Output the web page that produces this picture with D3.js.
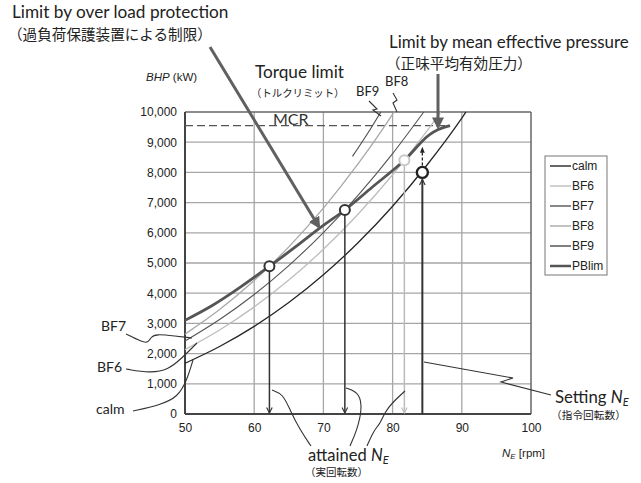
<!DOCTYPE html>
<html><head><meta charset="utf-8">
<script src="https://cdn.jsdelivr.net/npm/d3@7"></script>
<style>body{margin:0;background:#fff} svg{display:block}</style>
</head><body>
<svg id="c" width="641" height="483"></svg>
<script>
// ---------- data ----------
const seriesNames = ["calm", "BF6", "BF7", "BF8", "BF9", "PBlim"];
const calmN  = [50, 55, 60, 65, 70, 75, 80, 85, 90, 90.6];
const calmP  = [1680, 2236, 2903, 3691, 4610, 5670, 6881, 8254, 9798, 10000];
const bf6N   = [50, 55, 60, 65, 70, 75, 80, 85, 86.95];
const bf6P   = [2131, 2782, 3547, 4434, 5454, 6613, 7921, 9382, 10000];
const bf7N   = [50, 55, 60, 65, 70, 75, 80, 84.5];
const bf7P   = [2416, 3128, 3958, 4916, 6008, 7242, 8623, 10000];
const bf8N   = [50, 55, 60, 65, 70, 75, 80, 80.2];
const bf8P   = [2645, 3459, 4419, 5535, 6818, 8279, 9929, 10000];
const bf9N   = [74.2, 76.2, 78.3];
const bf9P   = [8530, 9220, 10000];
const pblimN = [50, 54, 58, 62.2, 66, 69.6, 73.1, 77, 81.7, 85.4, 86.6, 88.3];
const pblimP = [3100, 3600, 4200, 4890, 5540, 6180, 6755, 7500, 8400, 9260, 9420, 9550];
const mcrP = 9550;
const mcrN = [50, 88.3];
const attainedN = [62.2, 73.1];
const attainedP = [4890, 6755];
const attainedLightN = [81.7];
const attainedLightP = [8400];
const settingN = 84.3;
const settingP = 8000;
const settingTargetP = 8850;
const yTicks = [0, 1000, 2000, 3000, 4000, 5000, 6000, 7000, 8000, 9000, 10000];
const xTicks = [50, 60, 70, 80, 90, 100];

// ---------- styles ----------
const style = {
  calm:  {stroke: "#262626", width: 1.3},
  BF6:   {stroke: "#bdbdbd", width: 1.3},
  BF7:   {stroke: "#555555", width: 1.1},
  BF8:   {stroke: "#a8a8a8", width: 1.3},
  BF9:   {stroke: "#4a4a4a", width: 1.1},
  PBlim: {stroke: "#555555", width: 2.8}
};
const seriesData = {
  calm: [calmN, calmP], BF6: [bf6N, bf6P], BF7: [bf7N, bf7P],
  BF8: [bf8N, bf8P], BF9: [bf9N, bf9P], PBlim: [pblimN, pblimP]
};

const svg = d3.select("#c");
const L = 185, R = 531, T = 112, B = 414;
const x = d3.scaleLinear().domain([50, 100]).range([L, R]);
const y = d3.scaleLinear().domain([0, 10000]).range([B, T]);

const jp = "'Noto Sans CJK JP', sans-serif";
const en = "Lato, 'Open Sans', sans-serif";
const ax = "'Liberation Sans', Arial, sans-serif";

// markers
const defs = svg.append("defs");
defs.append("marker").attr("id", "bigArrow").attr("viewBox", "0 0 10 10")
  .attr("refX", 8).attr("refY", 5).attr("markerWidth", 4).attr("markerHeight", 4)
  .attr("orient", "auto").attr("markerUnits", "strokeWidth")
  .append("path").attr("d", "M0,0 L10,5 L0,10 z").attr("fill", "#606060");
defs.append("marker").attr("id", "chevDark").attr("viewBox", "0 0 10 10")
  .attr("refX", 9).attr("refY", 5).attr("markerWidth", 7).attr("markerHeight", 7)
  .attr("orient", "auto").attr("markerUnits", "userSpaceOnUse")
  .append("path").attr("d", "M1,1 L9,5 L1,9").attr("fill", "none").attr("stroke", "#333").attr("stroke-width", 1.6);
defs.append("marker").attr("id", "chevLight").attr("viewBox", "0 0 10 10")
  .attr("refX", 9).attr("refY", 5).attr("markerWidth", 7).attr("markerHeight", 7)
  .attr("orient", "auto").attr("markerUnits", "userSpaceOnUse")
  .append("path").attr("d", "M1,1 L9,5 L1,9").attr("fill", "none").attr("stroke", "#bbb").attr("stroke-width", 1.6);
defs.append("marker").attr("id", "smallTri").attr("viewBox", "0 0 10 10")
  .attr("refX", 5).attr("refY", 5).attr("markerWidth", 6).attr("markerHeight", 6)
  .attr("orient", "auto").attr("markerUnits", "userSpaceOnUse")
  .append("path").attr("d", "M0,1 L10,5 L0,9 z").attr("fill", "#222");

// grid
svg.append("g").selectAll("line").data(yTicks.filter(d => d > 0 && d < 10000)).join("line")
  .attr("x1", L).attr("x2", R).attr("y1", d => y(d)).attr("y2", d => y(d))
  .attr("stroke", "#a6a6a6").attr("stroke-width", 1.3);
svg.append("g").selectAll("line").data(xTicks.filter(d => d > 50 && d < 100)).join("line")
  .attr("y1", T).attr("y2", B).attr("x1", d => x(d)).attr("x2", d => x(d))
  .attr("stroke", "#a6a6a6").attr("stroke-width", 1.3);
// frame
svg.append("line").attr("x1", L).attr("x2", R).attr("y1", T).attr("y2", T).attr("stroke", "#666").attr("stroke-width", 1.5);
svg.append("line").attr("x1", R).attr("x2", R).attr("y1", T).attr("y2", B).attr("stroke", "#666").attr("stroke-width", 1.5);
svg.append("line").attr("x1", L).attr("x2", L).attr("y1", T).attr("y2", B).attr("stroke", "#444").attr("stroke-width", 2);
svg.append("line").attr("x1", L).attr("x2", R).attr("y1", B).attr("y2", B).attr("stroke", "#444").attr("stroke-width", 2);

// axes
const yAxis = svg.append("g").attr("transform", `translate(${L},0)`)
  .call(d3.axisLeft(y).tickValues(yTicks).tickSize(0).tickPadding(8).tickFormat(d3.format(",")));
yAxis.select(".domain").remove();
yAxis.selectAll("text").attr("font-family", ax).attr("font-size", 12).attr("fill", "#222");
const xAxis = svg.append("g").attr("transform", `translate(0,${B})`)
  .call(d3.axisBottom(x).tickValues(xTicks).tickSize(0).tickPadding(9).tickFormat(d3.format("d")));
xAxis.select(".domain").remove();
xAxis.selectAll("text").attr("font-family", ax).attr("font-size", 12).attr("fill", "#222");

// axis titles
const yt = svg.append("text").attr("x", 146).attr("y", 81).attr("font-family", ax).attr("font-size", 11.5).attr("fill", "#222");
yt.append("tspan").attr("font-style", "italic").text("BHP");
yt.append("tspan").text(" (kW)");
const xt = svg.append("text").attr("x", 502).attr("y", 457).attr("font-family", ax).attr("font-size", 11.5).attr("fill", "#222");
xt.append("tspan").attr("font-style", "italic").text("N");
xt.append("tspan").attr("font-style", "italic").attr("font-size", 8).attr("dy", 2).text("E");
xt.append("tspan").attr("dy", -2).text(" [rpm]");

// MCR dashed
svg.append("line").attr("x1", x(mcrN[0])).attr("x2", x(mcrN[1])).attr("y1", y(mcrP)).attr("y2", y(mcrP))
  .attr("stroke", "#555").attr("stroke-width", 1.4).attr("stroke-dasharray", "8,4");
svg.append("text").attr("x", 273).attr("y", 125).attr("font-family", en).attr("font-size", 16).attr("fill", "#333").text("MCR");

// curves
const line = d3.line().x(d => x(d[0])).y(d => y(d[1])).curve(d3.curveMonotoneX);
["BF6", "BF8", "calm", "BF7", "BF9", "PBlim"].forEach(name => {
  const [ns, ps] = seriesData[name];
  svg.append("path").datum(ns.map((n, i) => [n, ps[i]]))
    .attr("d", line).attr("fill", "none")
    .attr("stroke", style[name].stroke).attr("stroke-width", style[name].width)
    .attr("stroke-linejoin", "round");
});

// vertical arrows from attained points
attainedN.forEach((n, i) => {
  svg.append("line").attr("x1", x(n)).attr("x2", x(n)).attr("y1", y(attainedP[i]) + 5).attr("y2", y(0) - 1)
    .attr("stroke", "#333").attr("stroke-width", 1.5).attr("marker-end", "url(#chevDark)");
});
attainedLightN.forEach((n, i) => {
  svg.append("line").attr("x1", x(n)).attr("x2", x(n)).attr("y1", y(attainedLightP[i]) + 5).attr("y2", y(0) - 1)
    .attr("stroke", "#bbb").attr("stroke-width", 1.5).attr("marker-end", "url(#chevLight)");
});
// setting Ne arrow (upward)
svg.append("line").attr("x1", x(settingN)).attr("x2", x(settingN)).attr("y1", y(0)).attr("y2", y(settingP) + 7)
  .attr("stroke", "#333").attr("stroke-width", 2).attr("marker-end", "url(#chevDark)");
svg.append("line").attr("x1", x(settingN)).attr("x2", x(settingN)).attr("y1", y(settingP) - 7).attr("y2", y(settingTargetP) + 3)
  .attr("stroke", "#222").attr("stroke-width", 1.3).attr("stroke-dasharray", "3,2").attr("marker-end", "url(#smallTri)");

// circles
attainedN.forEach((n, i) => {
  svg.append("circle").attr("cx", x(n)).attr("cy", y(attainedP[i])).attr("r", 5)
    .attr("fill", "#fff").attr("stroke", "#333").attr("stroke-width", 2);
});
attainedLightN.forEach((n, i) => {
  svg.append("circle").attr("cx", x(n)).attr("cy", y(attainedLightP[i])).attr("r", 5)
    .attr("fill", "#fff").attr("stroke", "#c8c8c8").attr("stroke-width", 2);
});
svg.append("circle").attr("cx", x(settingN)).attr("cy", y(settingP)).attr("r", 5.5)
  .attr("fill", "#fff").attr("stroke", "#222").attr("stroke-width", 2.4);

// big annotation arrows
svg.append("line").attr("x1", 210).attr("y1", 47).attr("x2", 319).attr("y2", 227)
  .attr("stroke", "#606060").attr("stroke-width", 3).attr("marker-end", "url(#bigArrow)");
svg.append("line").attr("x1", 438).attr("y1", 74).attr("x2", 438).attr("y2", 127)
  .attr("stroke", "#606060").attr("stroke-width", 3).attr("marker-end", "url(#bigArrow)");

// leaders
const leader = d3.line().curve(d3.curveBasis);
const leaders = [
  [[126,334],[142,342],[148,343],[151,337],[156,334],[175,336],[192,338]],
  [[126,369],[150,373],[168,370],[182,358],[197,343]],
  [[133,411],[160,405],[178,397],[187,380],[193,360]],
  [[272,390],[283,394],[290,410],[300,430],[311,446]],
  [[346,388],[360,393],[362,410],[357,430],[350,446]],
  [[405,391],[392,403],[385,412],[380,424],[374,430],[367,446]],
];
leaders.forEach(pts => svg.append("path").attr("d", leader(pts)).attr("fill", "none").attr("stroke", "#333").attr("stroke-width", 1.1));
const lin = d3.line();
[
  [[424,362],[513,378],[501,382],[551,395]],
  [[369,101],[377,109],[373,110],[381,116]],
  [[393,93],[397,100],[393,103],[397,112]]
].forEach(pts => svg.append("path").attr("d", lin(pts)).attr("fill", "none").attr("stroke", "#333").attr("stroke-width", 1.1));

// annotation texts
function txt(xp, yp, s, font, size) {
  return svg.append("text").attr("x", xp).attr("y", yp).attr("font-family", font).attr("font-size", size).attr("fill", "#222").text(s);
}
txt(12, 18, "Limit by over load protection", en, 17.2);
txt(8, 40, "（過負荷保護装置による制限）", jp, 14.6);
txt(255, 78, "Torque limit", en, 17.2);
txt(251, 97, "（トルクリミット）", jp, 10.4);
txt(389, 48, "Limit by mean effective pressure", en, 16.9);
txt(386, 69, "（正味平均有効圧力）", jp, 14.6);
txt(356, 96, "BF9", en, 13);
txt(385, 86, "BF8", en, 13);
txt(101, 331, "BF7", en, 14);
txt(97, 372, "BF6", en, 14);
txt(96, 414, "calm", en, 14);
const at = txt(308, 461, "attained ", en, 16.5);
at.append("tspan").attr("font-style", "italic").text("N");
at.append("tspan").attr("font-style", "italic").attr("font-size", 11).attr("dy", 3).text("E");
txt(305, 476, "（実回転数）", jp, 10.5);
const st = txt(555, 403, "Setting ", en, 16.8);
st.append("tspan").attr("font-style", "italic").text("N");
st.append("tspan").attr("font-style", "italic").attr("font-size", 11).attr("dy", 3).text("E");
txt(551, 419, "（指令回転数）", jp, 10.7);

// legend
const lg = svg.append("g");
lg.append("rect").attr("x", 545).attr("y", 156).attr("width", 62).attr("height", 119)
  .attr("fill", "#fff").attr("stroke", "#777").attr("stroke-width", 1);
seriesNames.forEach((name, i) => {
  const cy = 166 + i * 20;
  lg.append("line").attr("x1", 550).attr("x2", 571).attr("y1", cy).attr("y2", cy)
    .attr("stroke", style[name].stroke).attr("stroke-width", name === "PBlim" ? 2.5 : 1.4);
  lg.append("text").attr("x", 572).attr("y", cy + 4).attr("font-family", ax).attr("font-size", 12).attr("fill", "#222").text(name);
});
</script>
</body></html>
